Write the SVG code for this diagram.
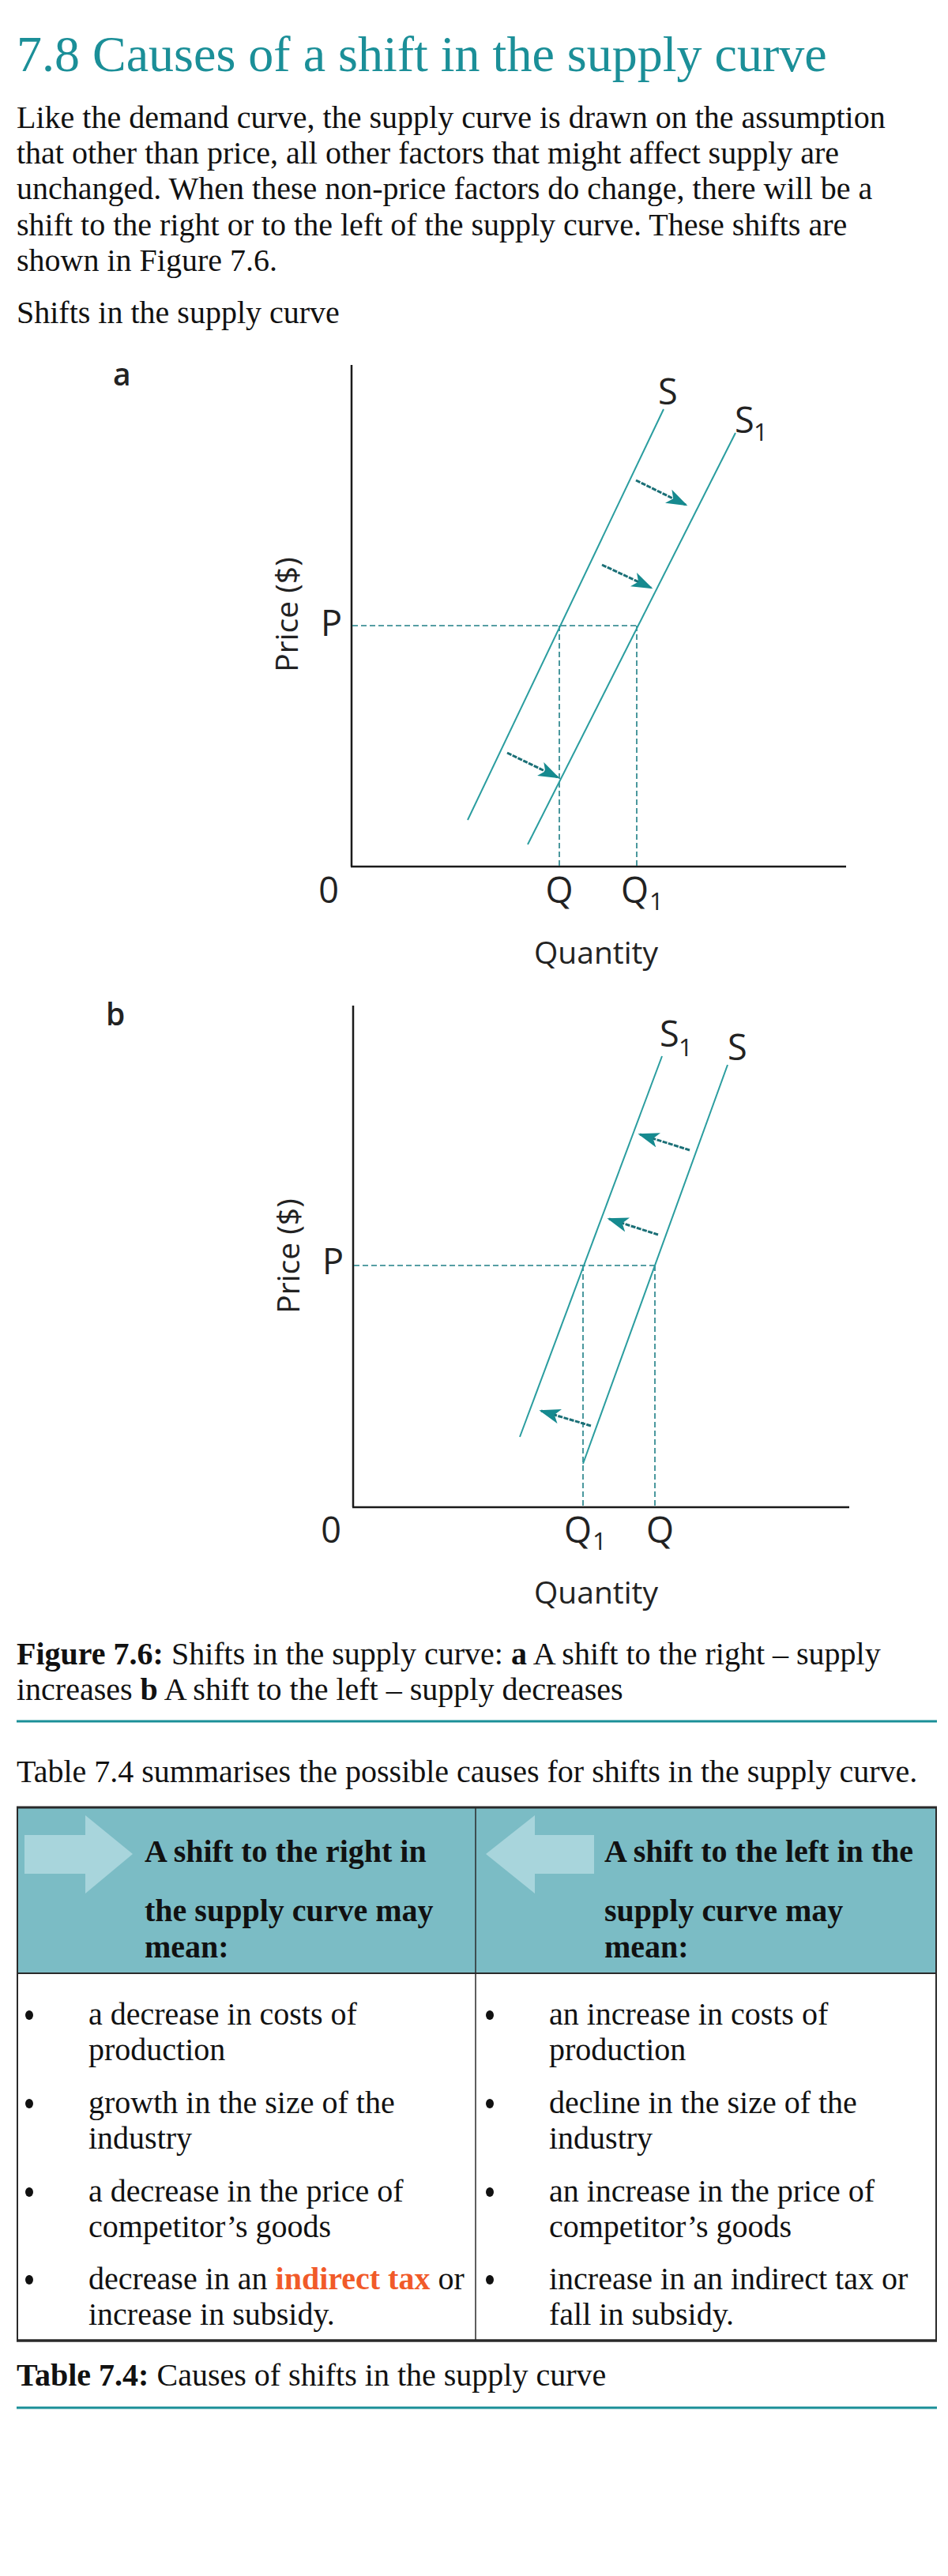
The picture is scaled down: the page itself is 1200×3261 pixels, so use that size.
<svg xmlns="http://www.w3.org/2000/svg" width="1200" height="3261" viewBox="0 0 1200 3261">
<defs>
<style>
.serif{font-family:"Liberation Serif","Times New Roman",serif;fill:#111}
.body{font-size:40px}
.b{font-weight:bold}
.title{font-family:"Liberation Serif","Times New Roman",serif;font-size:64px;fill:#1b8f98}
.lab{font-family:"Open Sans","Noto Sans",sans-serif;fill:#222}
.big{font-size:45px}
.mid{font-size:39px}
.sub{font-size:31px}
.axis{stroke:#1a1a1a;stroke-width:2.5;fill:none}
.curve{stroke:#2a9d9f;stroke-width:2;fill:none}
.dash{stroke:#1f7f86;stroke-width:1.6;stroke-dasharray:7 4;fill:none}
.shift{stroke:#1a6f76;stroke-width:3;stroke-dasharray:6 1.5;fill:none;marker-end:url(#ah)}
.rule{stroke:#1b8f98;stroke-width:3}
.border{stroke:#2a2a2a;fill:none}
.hdrarrow{fill:#a8d5dc}
.dot{fill:#111}
</style>
<marker id="ah" viewBox="0 0 10 10" refX="9" refY="5" markerWidth="27" markerHeight="19" markerUnits="userSpaceOnUse" orient="auto" preserveAspectRatio="none">
<path d="M0,0 L10,5 L0,10 L2.5,5 z" fill="#168a8f"/>
</marker>
</defs>
<rect width="1200" height="3261" fill="#ffffff"/>

<g id="heading">
<text class="title" x="21" y="90">7.8 Causes of a shift in the supply curve</text>
<text class="serif body" x="21" y="162">Like the demand curve, the supply curve is drawn on the assumption</text>
<text class="serif body" x="21" y="207">that other than price, all other factors that might affect supply are</text>
<text class="serif body" x="21" y="252">unchanged. When these non-price factors do change, there will be a</text>
<text class="serif body" x="21" y="298">shift to the right or to the left of the supply curve. These shifts are</text>
<text class="serif body" x="21" y="343">shown in Figure 7.6.</text>
<text class="serif body" x="21" y="409">Shifts in the supply curve</text>
</g>

<g id="graph-a">
<text class="lab mid" x="143" y="488" font-weight="600">a</text>
<line class="axis" x1="445" y1="462" x2="445" y2="1097"/>
<line class="axis" x1="444" y1="1097" x2="1071" y2="1097"/>
<line class="dash" x1="446" y1="792" x2="806" y2="792"/>
<line class="dash" x1="708" y1="792" x2="708" y2="1096"/>
<line class="dash" x1="806" y1="792" x2="806" y2="1096"/>
<line class="curve" x1="840" y1="518" x2="592" y2="1038"/>
<line class="curve" x1="931" y1="548" x2="668" y2="1069"/>
<text class="lab big" x="833" y="512">S</text>
<text class="lab big" x="930" y="548">S</text>
<text class="lab sub" x="954" y="558">1</text>
<text class="lab big" x="406" y="805">P</text>
<text class="lab mid" transform="translate(377,778) rotate(-90)" text-anchor="middle">Price ($)</text>
<text class="lab big" x="416" y="1143" text-anchor="middle">0</text>
<text class="lab big" x="708" y="1143" text-anchor="middle">Q</text>
<text class="lab big" x="786" y="1143">Q</text>
<text class="lab sub" x="822" y="1152">1</text>
<text class="lab mid" x="676" y="1220">Quantity</text>
</g>

<g id="graph-b">
<text class="lab mid" x="134" y="1298" font-weight="600">b</text>
<line class="axis" x1="447" y1="1273" x2="447" y2="1908"/>
<line class="axis" x1="446" y1="1908" x2="1075" y2="1908"/>
<line class="dash" x1="448" y1="1602" x2="829" y2="1602"/>
<line class="dash" x1="738" y1="1602" x2="738" y2="1907"/>
<line class="dash" x1="829" y1="1602" x2="829" y2="1907"/>
<line class="curve" x1="838" y1="1337" x2="658" y2="1819"/>
<line class="curve" x1="921" y1="1348" x2="738" y2="1853"/>
<text class="lab big" x="835" y="1325">S</text>
<text class="lab sub" x="859" y="1337">1</text>
<text class="lab big" x="921" y="1342">S</text>
<text class="lab big" x="408" y="1613">P</text>
<text class="lab mid" transform="translate(379,1590) rotate(-90)" text-anchor="middle">Price ($)</text>
<text class="lab big" x="419" y="1953" text-anchor="middle">0</text>
<text class="lab big" x="714" y="1953">Q</text>
<text class="lab sub" x="750" y="1962">1</text>
<text class="lab big" x="818" y="1953">Q</text>
<text class="lab mid" x="676" y="2030">Quantity</text>
</g>

<g id="connectors">
<line class="shift" x1="805" y1="608" x2="868" y2="639"/>
<line class="shift" x1="762" y1="715" x2="824" y2="744"/>
<line class="shift" x1="642" y1="953" x2="706" y2="984"/>
<line class="shift" x1="873" y1="1456" x2="810" y2="1436"/>
<line class="shift" x1="833" y1="1563" x2="771" y2="1543"/>
<line class="shift" x1="748" y1="1805" x2="685" y2="1786"/>
</g>

<g id="figure-caption">
<text class="serif body" x="21" y="2107"><tspan class="b">Figure 7.6:</tspan> Shifts in the supply curve: <tspan class="b">a</tspan> A shift to the right – supply</text>
<text class="serif body" x="21" y="2152">increases <tspan class="b">b</tspan> A shift to the left – supply decreases</text>
<line class="rule" x1="21" y1="2179" x2="1186" y2="2179"/>
<text class="serif body" x="21" y="2256">Table 7.4 summarises the possible causes for shifts in the supply curve.</text>
</g>

<g id="table">
<rect x="22" y="2289" width="1162" height="208" fill="#7bbcc5"/>
<polygon class="hdrarrow" points="31,2323 108,2323 108,2298 168,2347 108,2397 108,2372 31,2372"/>
<polygon class="hdrarrow" points="752,2323 677,2323 677,2298 615,2347 677,2397 677,2372 752,2372"/>
<text class="serif body b" x="183" y="2357">A shift to the right in</text>
<text class="serif body b" x="183" y="2432">the supply curve may</text>
<text class="serif body b" x="183" y="2478">mean:</text>
<text class="serif body b" x="765" y="2357">A shift to the left in the</text>
<text class="serif body b" x="765" y="2432">supply curve may</text>
<text class="serif body b" x="765" y="2478">mean:</text>
<line class="border" stroke-width="3" x1="21" y1="2288" x2="1186" y2="2288"/>
<line class="border" stroke-width="2" x1="21" y1="2498" x2="1186" y2="2498"/>
<line class="border" stroke-width="3.5" x1="21" y1="2963" x2="1186" y2="2963"/>
<line class="border" stroke-width="2" x1="22" y1="2288" x2="22" y2="2963"/>
<line class="border" stroke-width="1.5" x1="602" y1="2288" x2="602" y2="2963"/>
<line class="border" stroke-width="2" x1="1185" y1="2288" x2="1185" y2="2963"/>
<g>
<ellipse class="dot" cx="37" cy="2551" rx="5" ry="6"/>
<ellipse class="dot" cx="37" cy="2663" rx="5" ry="6"/>
<ellipse class="dot" cx="37" cy="2775" rx="5" ry="6"/>
<ellipse class="dot" cx="37" cy="2886" rx="5" ry="6"/>
<ellipse class="dot" cx="620" cy="2551" rx="5" ry="6"/>
<ellipse class="dot" cx="620" cy="2663" rx="5" ry="6"/>
<ellipse class="dot" cx="620" cy="2775" rx="5" ry="6"/>
<ellipse class="dot" cx="620" cy="2886" rx="5" ry="6"/>
</g>
<g class="serif body">
<text x="112" y="2563">a decrease in costs of</text>
<text x="112" y="2608">production</text>
<text x="112" y="2675">growth in the size of the</text>
<text x="112" y="2720">industry</text>
<text x="112" y="2787">a decrease in the price of</text>
<text x="112" y="2832">competitor’s goods</text>
<text x="112" y="2898">decrease in an <tspan class="b" fill="#f15a29">indirect tax</tspan> or</text>
<text x="112" y="2943">increase in subsidy.</text>
<text x="695" y="2563">an increase in costs of</text>
<text x="695" y="2608">production</text>
<text x="695" y="2675">decline in the size of the</text>
<text x="695" y="2720">industry</text>
<text x="695" y="2787">an increase in the price of</text>
<text x="695" y="2832">competitor’s goods</text>
<text x="695" y="2898">increase in an indirect tax or</text>
<text x="695" y="2943">fall in subsidy.</text>
</g>
</g>

<g id="table-caption">
<text class="serif body" x="21" y="3020"><tspan class="b">Table 7.4:</tspan> Causes of shifts in the supply curve</text>
<line class="rule" x1="21" y1="3048" x2="1186" y2="3048"/>
</g>
</svg>
